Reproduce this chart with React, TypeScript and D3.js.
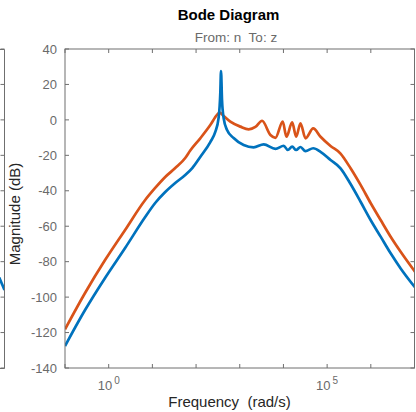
import React from 'react';
import * as d3 from 'd3';

// log10 of frequency (rad/s) and magnitude (dB)
const blueFreqExp = [-1.0, -0.541, -0.083, 0.376, 0.835, 1.064, 1.294, 1.523, 1.752, 1.913, 2.096, 2.326, 2.44, 2.516, 2.555, 2.571, 2.594, 2.631, 2.709, 2.86, 3.089, 3.319, 3.548, 3.817, 4.007, 4.099, 4.2, 4.291, 4.39, 4.505, 4.681, 4.849, 5.078, 5.307, 5.537, 5.766, 5.995, 6.225, 6.454, 6.683, 7.028];
const blueMagDb = [-127.6, -107.3, -89.2, -72.3, -54.8, -46.9, -40.7, -35.6, -31.1, -27.2, -20.9, -12.5, -6.8, 1.1, 15.2, 27.6, 11.2, 1.1, -5.7, -10.2, -14.2, -15.5, -13.8, -16.4, -14.6, -17.0, -15.1, -17.0, -15.3, -17.6, -16.0, -18.0, -22.6, -27.3, -36.2, -46.2, -56.5, -65.9, -75.3, -83.8, -95.0];

const orangeFreqExp = [-1.0, -0.541, -0.083, 0.376, 0.835, 1.064, 1.294, 1.523, 1.752, 1.867, 2.096, 2.326, 2.479, 2.539, 2.631, 2.784, 3.014, 3.204, 3.358, 3.511, 3.702, 3.817, 3.984, 4.069, 4.2, 4.291, 4.39, 4.505, 4.681, 4.849, 5.078, 5.307, 5.537, 5.766, 5.995, 6.225, 6.454, 6.683, 7.028];
const orangeMagDb = [-118.2, -97.7, -79.1, -62.1, -45.2, -38.4, -32.2, -27.2, -21.5, -17.3, -10.4, -2.9, 2.8, 4.1, 2.2, -1.0, -3.8, -5.3, -4.0, -0.5, -8.5, -10.1, -1.0, -9.5, -1.4, -9.5, -1.9, -10.4, -4.8, -9.5, -14.7, -19.0, -27.3, -36.7, -46.9, -56.5, -65.9, -74.4, -86.2];

// neighbouring (clipped) panel on the left
const neighborFreqExp = [6.88, 7.0];
const neighborMagDb = [-89.0, -96.0];

const yTickValues = [-140, -120, -100, -80, -60, -40, -20, 0, 20, 40];
const xTickExps = [-1, 0, 1, 2, 3, 4, 5, 6, 7];
const xLabelExps = [0, 5];

const title = 'Bode Diagram';
const subtitle = 'From: n  To: z';
const xLabel = 'Frequency  (rad/s)';
const yLabel = 'Magnitude (dB)';

const BLUE = '#0072BD';
const ORANGE = '#D95319';
const AXIS = '#6f6f6f';
const TICKTXT = '#6a6a6a';
const FONT = 'Liberation Sans, Arial, Helvetica, sans-serif';

export default function App() {
  const left = 65, right = 414.5, top = 49, bottom = 368;
  const x = d3.scaleLog().domain([1e-1, 1e7]).range([left, right]);
  const y = d3.scaleLinear().domain([-140, 40]).range([bottom, top]);
  const nRight = 4.5;
  const xn = d3.scaleLog().domain([1e-1, 1e7]).range([nRight - (right - left), nRight]);

  const line = d3
    .line<[number, number]>()
    .x((d) => x(Math.pow(10, d[0])))
    .y((d) => y(d[1]))
    .curve(d3.curveMonotoneX);
  const nline = d3
    .line<[number, number]>()
    .x((d) => xn(Math.pow(10, d[0])))
    .y((d) => y(d[1]));

  const blue = blueFreqExp.map((f, i) => [f, blueMagDb[i]] as [number, number]);
  const orange = orangeFreqExp.map((f, i) => [f, orangeMagDb[i]] as [number, number]);
  const neigh = neighborFreqExp.map((f, i) => [f, neighborMagDb[i]] as [number, number]);

  const tl = 4;
  const pre = { whiteSpace: 'pre' as const };
  return (
    <svg width={416} height={412} style={{ position: 'absolute', left: 0, top: 0, background: '#fff' }} fontFamily={FONT}>
      <defs>
        <clipPath id="plotclip">
          <rect x={left} y={top} width={right - left} height={bottom - top} />
        </clipPath>
        <clipPath id="nclip">
          <rect x={-400} y={top} width={400 + nRight} height={bottom - top} />
        </clipPath>
      </defs>
      <rect x={0} y={0} width={416} height={412} fill="#fff" />

      {/* neighbour panel */}
      <path d={nline(neigh) || ''} fill="none" stroke={BLUE} strokeWidth={2.7} clipPath="url(#nclip)" />
      <path d={`M0,${top + 0.5}H${nRight}V${bottom + 0.5}H0`} fill="none" stroke={AXIS} strokeWidth={1} />
      {yTickValues.map((v) => (
        <line key={'nt' + v} x1={nRight} x2={nRight - tl} y1={y(v)} y2={y(v)} stroke={AXIS} strokeWidth={1} />
      ))}

      {/* curves */}
      <g clipPath="url(#plotclip)">
        <path d={line(orange) || ''} fill="none" stroke={ORANGE} strokeWidth={2.7} strokeLinejoin="round" />
        <path d={line(blue) || ''} fill="none" stroke={BLUE} strokeWidth={2.7} strokeLinejoin="round" />
      </g>

      {/* box */}
      <rect x={left} y={top} width={right - left} height={bottom - top} fill="none" stroke={AXIS} strokeWidth={1} />

      {/* y ticks */}
      {yTickValues.map((v) => (
        <g key={'yt' + v}>
          <line x1={left} x2={left + tl} y1={y(v)} y2={y(v)} stroke={AXIS} />
          <line x1={right} x2={right - tl} y1={y(v)} y2={y(v)} stroke={AXIS} />
          <text x={left - 8} y={y(v)} dy="0.36em" textAnchor="end" fontSize={13} fill={TICKTXT}>
            {v}
          </text>
        </g>
      ))}

      {/* x ticks */}
      {xTickExps.map((e) => {
        const px = x(Math.pow(10, e));
        return (
          <g key={'xt' + e}>
            <line x1={px} x2={px} y1={bottom} y2={bottom - tl} stroke={AXIS} />
            <line x1={px} x2={px} y1={top} y2={top + tl} stroke={AXIS} />
          </g>
        );
      })}
      {xLabelExps.map((e) => (
        <text key={'xl' + e} x={x(Math.pow(10, e))} y={390} textAnchor="middle" fontSize={13} fill={TICKTXT}>
          10
          <tspan dx={2} dy={-6} fontSize={10}>
            {e}
          </tspan>
        </text>
      ))}

      {/* labels */}
      <text x={228.5} y={20} textAnchor="middle" fontSize={15} fontWeight="bold" fill="#000">
        {title}
      </text>
      <text x={236} y={41.5} textAnchor="middle" fontSize={13.5} fill={TICKTXT} style={pre}>
        {subtitle}
      </text>
      <text x={229.5} y={407} textAnchor="middle" fontSize={15} fill="#262626" style={pre}>
        {xLabel}
      </text>
      <text transform={`translate(20,214) rotate(-90)`} textAnchor="middle" fontSize={15} fill="#262626">
        {yLabel}
      </text>
    </svg>
  );
}
